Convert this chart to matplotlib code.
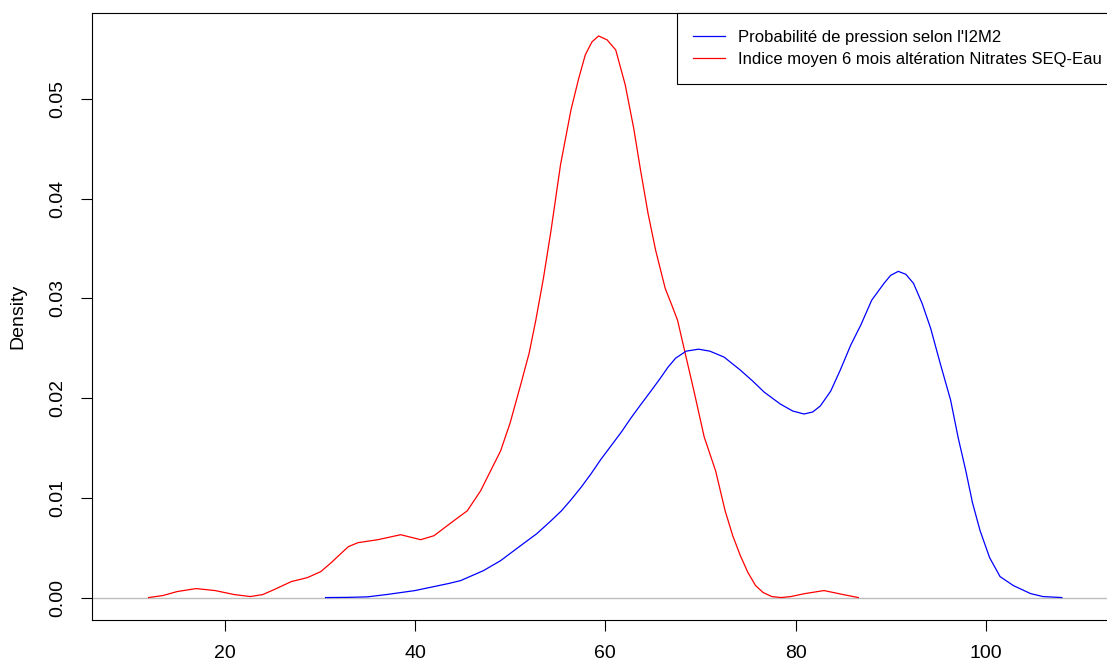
import matplotlib
matplotlib.use("Agg")
import matplotlib.pyplot as plt
from matplotlib.lines import Line2D

plt.rcParams['font.family'] = ['Liberation Sans', 'DejaVu Sans']

# Red density: Indice moyen 6 mois altération Nitrates SEQ-Eau
red_x = [12.0, 13.5, 15.0, 17.0, 19.0, 21.0, 22.7, 24.0, 25.2, 27.0, 28.7, 30.1,
         31.2, 32.2, 33.0, 34.0, 36.1, 38.5, 40.6, 42.0, 43.8, 45.5, 46.9, 48.0,
         49.0, 50.0, 51.1, 52.0, 52.7, 53.5, 54.3, 55.3, 56.4, 57.2, 57.9, 58.6,
         59.3, 60.2, 61.1, 62.1, 63.0, 63.7, 64.5, 65.3, 66.3, 67.0, 67.6, 68.4,
         69.3, 70.4, 71.6, 72.6, 73.4, 74.2, 75.0, 75.8, 76.6, 77.5, 78.5, 79.5,
         81.0, 83.0, 85.0, 86.6]
red_y = [0.0, 0.0002, 0.0006, 0.0009, 0.0007, 0.0003, 0.0001, 0.0003, 0.0008, 0.0016, 0.0020, 0.0026,
         0.0035, 0.0044, 0.0051, 0.0055, 0.0058, 0.0063, 0.0058, 0.0062, 0.0075, 0.0087, 0.0107, 0.0128,
         0.0147, 0.0175, 0.0213, 0.0245, 0.0278, 0.0320, 0.0368, 0.0434, 0.0489, 0.0520, 0.0544, 0.0557,
         0.0563, 0.0559, 0.0549, 0.0514, 0.0470, 0.0429, 0.0385, 0.0348, 0.0310, 0.0293, 0.0278, 0.0245,
         0.0208, 0.0161, 0.0127, 0.0087, 0.0062, 0.0042, 0.0025, 0.0012, 0.0005, 0.0001, 0.0, 0.0001,
         0.0004, 0.0007, 0.0003, 0.0]

# Blue density: Probabilité de pression selon l'I2M2
blue_x = [30.6, 33.0, 35.0, 37.0, 38.5, 40.0, 42.0, 43.5, 44.8, 46.0, 47.2, 49.0,
          51.1, 52.8, 54.3, 55.4, 56.4, 57.5, 58.5, 59.5, 60.6, 61.7, 62.7, 63.7,
          64.8, 65.8, 66.6, 67.4, 68.5, 69.8, 71.0, 72.5, 74.2, 75.5, 76.7, 78.4,
          79.7, 80.9, 81.8, 82.6, 83.7, 84.7, 85.8, 86.9, 88.0, 89.3, 90.0, 90.8,
          91.6, 92.4, 93.3, 94.2, 95.2, 96.3, 97.1, 97.9, 98.6, 99.4, 100.4, 101.5,
          102.9, 104.7, 106.0, 108.0]
blue_y = [0.0, 0.00002, 0.00007, 0.0003, 0.0005, 0.0007, 0.0011, 0.0014, 0.0017, 0.0022, 0.0027, 0.0037,
          0.0052, 0.0064, 0.0077, 0.0087, 0.0098, 0.0111, 0.0124, 0.0138, 0.0152, 0.0166, 0.0180, 0.0193,
          0.0207, 0.0220, 0.0231, 0.0240, 0.0247, 0.0249, 0.0247, 0.0241, 0.0228, 0.0217, 0.0206, 0.0194,
          0.0187, 0.0184, 0.0186, 0.0192, 0.0207, 0.0228, 0.0253, 0.0274, 0.0298, 0.0315, 0.0323, 0.0327,
          0.0324, 0.0315, 0.0295, 0.0270, 0.0235, 0.0198, 0.0160, 0.0127, 0.0095, 0.0067, 0.0040, 0.0021,
          0.0012, 0.0004, 0.0001, 0.0]

x_ticks = [20, 40, 60, 80, 100]
y_ticks = [0.00, 0.01, 0.02, 0.03, 0.04, 0.05]
y_tick_labels = ["0.00", "0.01", "0.02", "0.03", "0.04", "0.05"]
label_blue = "Probabilité de pression selon l'I2M2"
label_red = "Indice moyen 6 mois altération Nitrates SEQ-Eau"

W, H = 1107, 664
fig = plt.figure(figsize=(W / 100, H / 100), dpi=100)
left_px, right_px, top_px, bottom_px = 91.5, 1119, 13, 620
ax = fig.add_axes([left_px / W, (H - bottom_px) / H,
                   (right_px - left_px) / W, (bottom_px - top_px) / H])

ax.axhline(0, color='#BEBEBE', lw=1.0, zorder=1)
ax.plot(red_x, red_y, color='#FF0000', lw=0.9, zorder=2)
ax.plot(blue_x, blue_y, color='#0000FF', lw=0.9, zorder=2)

ax.set_xlim(6, 114)
ax.set_ylim(-0.00225, 0.0586)

ax.set_xticks(x_ticks)
ax.set_xticklabels([str(t) for t in x_ticks])
ax.set_yticks(y_ticks)
ax.set_yticklabels(y_tick_labels, rotation=90, va='center')

ax.tick_params(direction='out', length=8, width=0.8, pad=10, labelsize=14,
               colors='black')
for s in ax.spines.values():
    s.set_linewidth(0.8)
    s.set_color('black')

ax.set_ylabel("Density", fontsize=14, labelpad=17)

handles = [Line2D([], [], color='#0000FF', lw=0.9),
           Line2D([], [], color='#FF0000', lw=0.9)]
leg = ax.legend(handles, [label_blue, label_red], loc='upper right',
                borderaxespad=0, fontsize=12.0, frameon=True, fancybox=False,
                edgecolor='black', framealpha=1, handlelength=1.9,
                handletextpad=0.8, borderpad=1.0, labelspacing=0.45)
leg.get_frame().set_linewidth(0.8)

fig.savefig("out.png", dpi=100)
